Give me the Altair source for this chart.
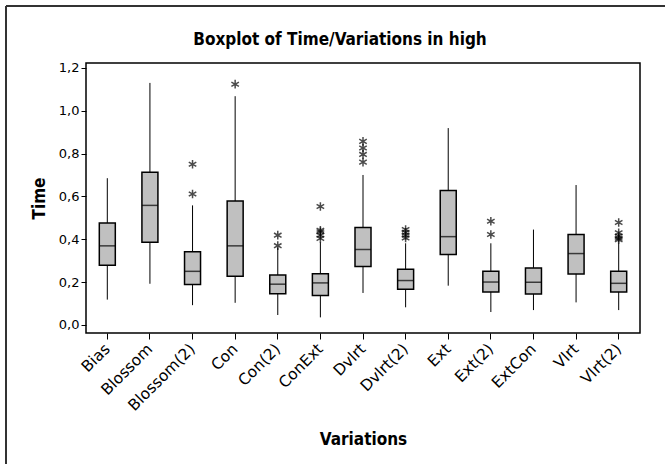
import altair as alt
import pandas as pd

cats = ["Bias", "Blossom", "Blossom(2)", "Con", "Con(2)", "ConExt", "Dvlrt",
        "Dvlrt(2)", "Ext", "Ext(2)", "ExtCon", "Vlrt", "Vlrt(2)"]
lows = [0.118, 0.192, 0.092, 0.103, 0.046, 0.035, 0.149, 0.082, 0.183, 0.060, 0.069, 0.105, 0.069]
q1s = [0.278, 0.386, 0.189, 0.227, 0.145, 0.137, 0.273, 0.166, 0.329, 0.154, 0.144, 0.238, 0.154]
meds = [0.369, 0.558, 0.250, 0.369, 0.190, 0.196, 0.352, 0.207, 0.412, 0.200, 0.199, 0.333, 0.194]
q3s = [0.476, 0.713, 0.341, 0.578, 0.233, 0.239, 0.455, 0.260, 0.628, 0.250, 0.266, 0.422, 0.250]
highs = [0.685, 1.130, 0.558, 1.068, 0.360, 0.386, 0.700, 0.381, 0.919, 0.381, 0.445, 0.653, 0.381]

out_cats = ["Blossom(2)", "Blossom(2)", "Con", "Con(2)", "Con(2)",
            "ConExt", "ConExt", "ConExt", "ConExt", "ConExt",
            "Dvlrt", "Dvlrt", "Dvlrt", "Dvlrt",
            "Dvlrt(2)", "Dvlrt(2)", "Dvlrt(2)", "Dvlrt(2)",
            "Ext(2)", "Ext(2)",
            "Vlrt(2)", "Vlrt(2)", "Vlrt(2)", "Vlrt(2)", "Vlrt(2)"]
out_vals = [0.750, 0.611, 1.124, 0.419, 0.370,
            0.553, 0.442, 0.435, 0.419, 0.404,
            0.857, 0.826, 0.796, 0.760,
            0.445, 0.432, 0.419, 0.406,
            0.484, 0.422,
            0.478, 0.430, 0.415, 0.405, 0.398]

title_text = ["Boxplot of Time/Variations in high"]

stats = pd.DataFrame({"cat": cats, "low": lows, "q1": q1s, "med": meds, "q3": q3s, "high": highs})
outs = pd.DataFrame({"cat": out_cats, "val": out_vals})
tdf = pd.DataFrame({"t": title_text})

FONT = "DejaVu Sans"
BFONT = "DejaVu Sans Condensed"

xenc = alt.X("cat:N", sort=cats, title="Variations",
             scale=alt.Scale(paddingInner=0, paddingOuter=0),
             axis=alt.Axis(labelAngle=-45, labelAlign="right", labelBaseline="middle",
                           labelFontSize=15.5, labelFont=FONT, labelColor="black",
                           tickColor="black", tickSize=6, domain=False,
                           titleFont=BFONT, titleFontSize=17, titleFontWeight="bold",
                           titleColor="black", titlePadding=18, labelPadding=7))
yscale = alt.Scale(domain=[-0.038, 1.223], nice=False, zero=False)
yaxis = alt.Axis(values=[0, 0.2, 0.4, 0.6, 0.8, 1.0, 1.2],
                 labelExpr="replace(format(datum.value, '.1f'), '.', ',')",
                 grid=False, domain=False, tickColor="black", tickSize=5,
                 labelFontSize=13, labelFont=FONT, labelColor="black", labelPadding=2,
                 titleFont=BFONT, titleFontSize=17, titleFontWeight="bold",
                 titleColor="black", titlePadding=10)

base = alt.Chart(stats)

whisk = base.mark_rule(color="black", strokeWidth=1).encode(
    x=xenc,
    y=alt.Y("low:Q", scale=yscale, axis=yaxis, title="Time"),
    y2="high:Q")

box = base.mark_bar(size=16, fill="#c0c0c0", stroke="black", strokeWidth=1.5).encode(
    x=xenc, y=alt.Y("q1:Q", scale=yscale), y2="q3:Q")

med = base.mark_tick(size=16, thickness=1.5, color="black", orient="horizontal").encode(
    x=xenc, y=alt.Y("med:Q", scale=yscale))

star = "M0,-1L0,1M-0.87,-0.5L0.87,0.5M-0.87,0.5L0.87,-0.5"
pts = alt.Chart(outs).mark_point(shape=star, size=75, filled=False, stroke="black",
                                 strokeWidth=1.5).encode(
    x=xenc, y=alt.Y("val:Q", scale=yscale))

frame_left = alt.Chart(stats).mark_rule(color="#333333", strokeWidth=1.5, clip=False).encode(
    x=alt.value(-80), y=alt.value(-57), y2=alt.value(420))
frame_top = alt.Chart(stats).mark_rule(color="#333333", strokeWidth=1.5, clip=False).encode(
    x=alt.value(-80), x2=alt.value(600), y=alt.value(-57))

title = alt.Chart(tdf).mark_text(font=BFONT, fontSize=17, fontWeight="bold", color="black",
                                 align="center", baseline="alphabetic").encode(
    text="t:N", x=alt.value(254), y=alt.value(-18))

chart = alt.layer(whisk, box, med, pts, frame_left, frame_top, title).properties(
    width=554, height=270,
    background="white",
    autosize=alt.AutoSizeParams(type="none"),
    padding={"left": 86, "top": 63, "right": 25, "bottom": 131},
).configure_view(stroke="black", strokeWidth=1.5)

chart.save("out.html", embed_options={"renderer": "svg", "actions": False})
